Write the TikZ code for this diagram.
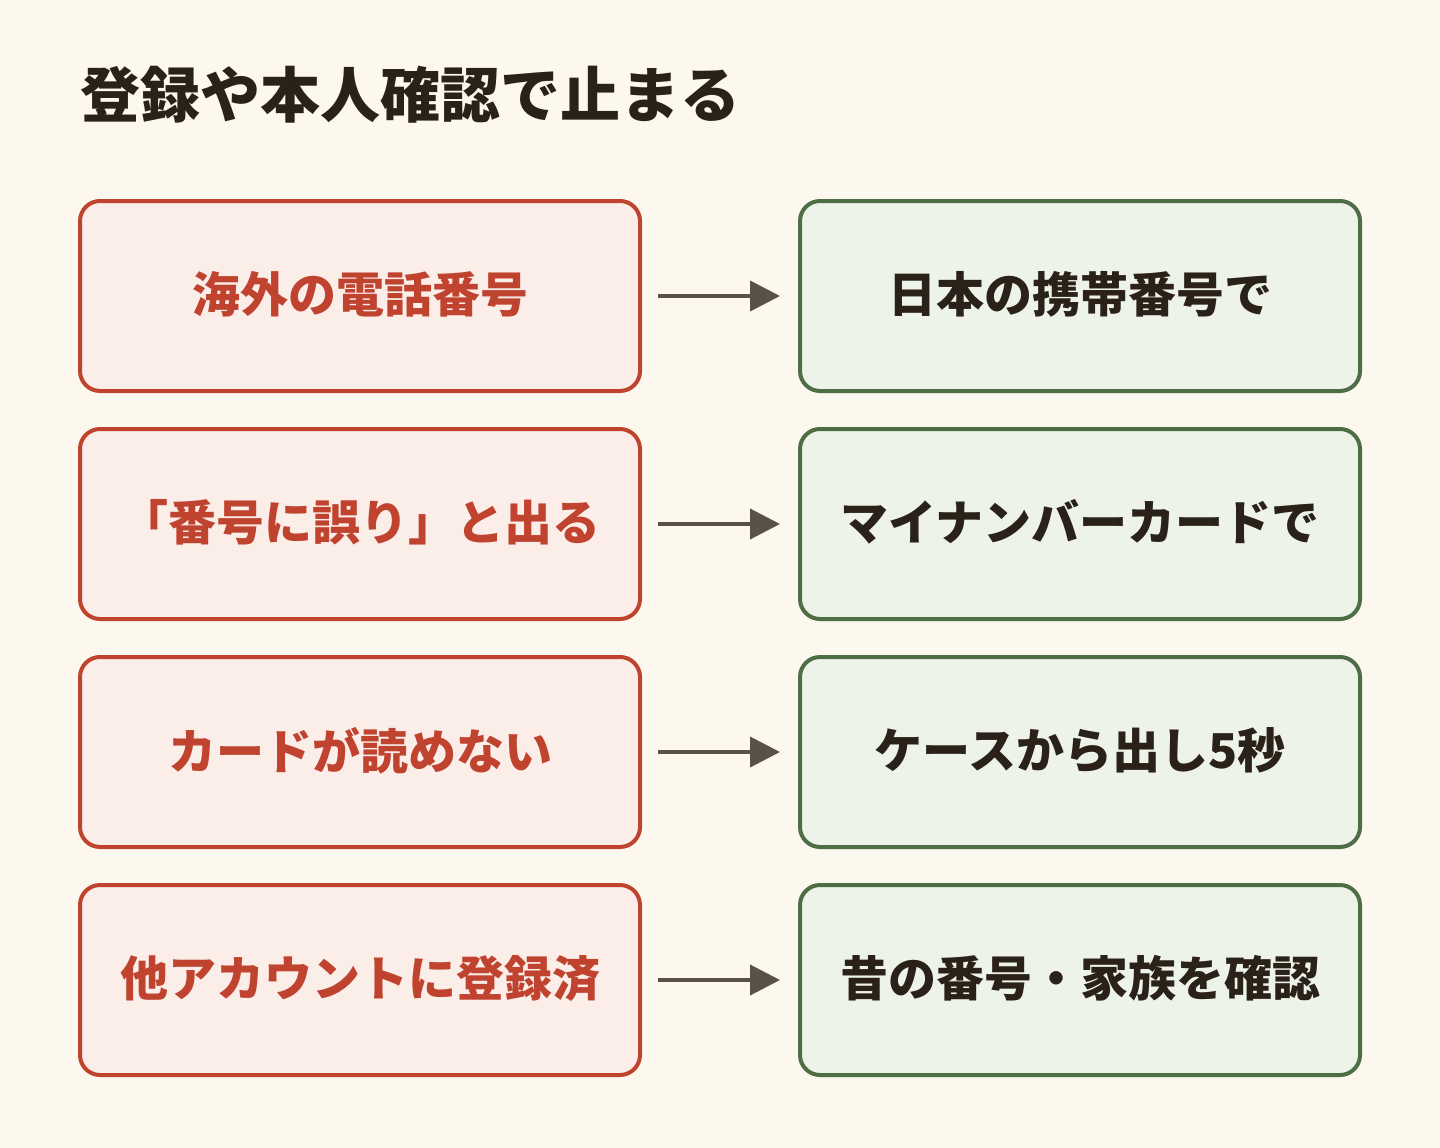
\documentclass[tikz,border=0pt]{standalone}
\usepackage{fontspec}
\newfontfamily\cjk{Noto Sans CJK JP}
\usetikzlibrary{arrows.meta,calc}
\definecolor{bg}{HTML}{FCF8EE}
\definecolor{rs}{HTML}{C0432F}
\definecolor{rf}{HTML}{FBEEE8}
\definecolor{gs}{HTML}{4E6E45}
\definecolor{gf}{HTML}{EEF3EA}
\definecolor{tx}{HTML}{2A2118}
\definecolor{ar}{HTML}{5A5248}
\begin{document}
\begin{tikzpicture}[x=1pt,y=-1pt,
  box/.style={rounded corners=20pt,line width=4pt,minimum width=560pt,minimum height=190pt,font=\cjk\bfseries\fontsize{48}{56}\selectfont},
  bad/.style={box,draw=rs,fill=rf,text=rs},
  good/.style={box,draw=gs,fill=gf,text=tx},
  arr/.style={draw=ar,line width=4pt,-{Triangle[length=30pt,width=30pt]}}]
\fill[bg] (0,0) rectangle (1440,1148);
\useasboundingbox (0,0) rectangle (1440,1148);
\node[anchor=base west,text=tx,font=\cjk\bfseries\fontsize{60}{68}\selectfont,inner sep=0] (title) at (80,117) {登録や本人確認で止まる};
\foreach \i/\l/\r [count=\n] in {0/海外の電話番号/日本の携帯番号で,1/「番号に誤り」と出る/マイナンバーカードで,2/カードが読めない/ケースから出し5秒,3/他アカウントに登録済/昔の番号・家族を確認}{
  \node[bad] (L\n) at (360,296+228*\i) {\raisebox{8pt}{\l}};
  \node[good] (R\n) at (1080,296+228*\i) {\raisebox{8pt}{\r}};
  \draw[arr] ($(L\n.east)+(16,0)$) -- ($(R\n.west)+(-18,0)$);
}
\end{tikzpicture}
\end{document}
